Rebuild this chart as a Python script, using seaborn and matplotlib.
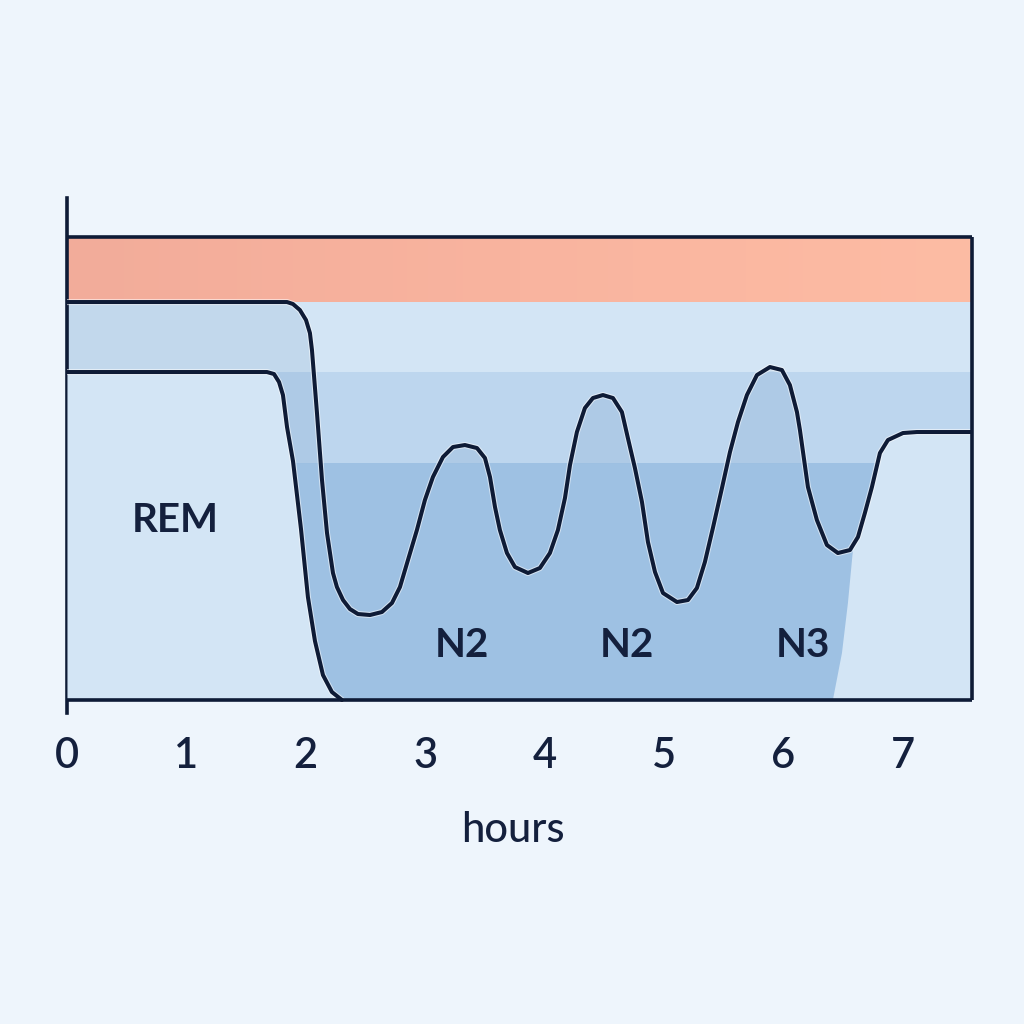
import numpy as np
import seaborn as sns
import matplotlib.pyplot as plt
import matplotlib.patheffects as pe
from matplotlib.colors import LinearSegmentedColormap

sns.set_theme(style="white")
plt.rcParams['font.family'] = ['Lato', 'DejaVu Sans']

# upper trace: hours vs. level (0 = bottom of the box)
trace_hours = [0.000, 1.843, 1.893, 1.951, 2.002, 2.035, 2.052, 2.094, 2.136, 2.178,
               2.228, 2.261, 2.312, 2.370, 2.437, 2.538, 2.638, 2.722, 2.789, 2.856,
               2.931, 2.998, 3.065, 3.149, 3.233, 3.333, 3.434, 3.501, 3.543, 3.585,
               3.626, 3.685, 3.752, 3.861, 3.961, 4.045, 4.112, 4.171, 4.213, 4.271,
               4.338, 4.405, 4.489, 4.573, 4.648, 4.698, 4.757, 4.816, 4.866, 4.925,
               4.992, 5.109, 5.201, 5.276, 5.343, 5.410, 5.486, 5.553, 5.620, 5.695,
               5.779, 5.888, 5.988, 6.055, 6.114, 6.139, 6.206, 6.281, 6.365, 6.457,
               6.558, 6.625, 6.683, 6.742, 6.809, 6.876, 7.002, 7.119, 7.580]
trace_level = [3.98, 3.98, 3.96, 3.90, 3.80, 3.67, 3.50, 2.87, 2.20, 1.67,
               1.27, 1.13, 1.00, 0.91, 0.86, 0.85, 0.88, 0.97, 1.13, 1.40,
               1.70, 2.00, 2.23, 2.43, 2.53, 2.55, 2.52, 2.42, 2.23, 1.93,
               1.70, 1.47, 1.33, 1.27, 1.32, 1.47, 1.70, 2.02, 2.35, 2.68,
               2.92, 3.02, 3.05, 3.02, 2.88, 2.62, 2.32, 1.98, 1.58, 1.28,
               1.07, 0.98, 1.00, 1.12, 1.38, 1.72, 2.12, 2.48, 2.78, 3.05,
               3.25, 3.33, 3.30, 3.15, 2.88, 2.70, 2.13, 1.80, 1.55, 1.47,
               1.50, 1.63, 1.87, 2.13, 2.47, 2.60, 2.67, 2.68, 2.68]

# lower trace (REM block on the left)
rem_hours = [0.000, 1.675, 1.734, 1.776, 1.809, 1.843, 1.893, 1.960, 2.018, 2.077,
             2.144, 2.219, 2.303]
rem_level = [3.28, 3.28, 3.26, 3.18, 3.05, 2.73, 2.39, 1.71, 1.03, 0.59,
             0.25, 0.08, 0.00]

# soft edge of the light area after the last trough
edge_hours = [6.415, 6.491, 6.541, 6.575, 6.585]
edge_level = [0.00, 0.47, 0.97, 1.40, 1.52]

band_lo = [0.00, 2.37]
band_hi = [2.37, 3.28]
wake_band = (3.98, 4.63)

tick_hours = [0, 1, 2, 3, 4, 5, 6, 7]
stage_text = ["REM", "N2", "N2", "N3"]
stage_hours = [0.91, 3.31, 4.69, 6.16]
stage_level = [1.80, 0.55, 0.55, 0.55]

x_max = 7.58

BG = "#EEF5FC"
LIGHT = "#D3E5F5"
MID = "#BDD6EE"
DARK = "#9EC1E3"
SHADE = "#3B6FA8"
NAVY = "#0E1B36"
TEXT = "#14203D"

fig = plt.figure(figsize=(10.24, 10.24), dpi=100, facecolor=BG)
ax = fig.add_axes([0.0654, 0.3037, 0.8838, 0.5029])
ax.set_facecolor(BG)

# stage bands
ax.axhspan(0, wake_band[0], color=LIGHT, lw=0, zorder=0)
ax.axhspan(band_lo[1], band_hi[1], color=MID, lw=0, zorder=1)
ax.axhspan(band_lo[0], band_hi[0], color=DARK, lw=0, zorder=1)

salmon = LinearSegmentedColormap.from_list("salmon", ["#F2AC9A", "#F9B49F", "#FDBCA4"])
ax.imshow(np.linspace(0, 1, 256)[None, :], cmap=salmon, aspect="auto",
          extent=(0, x_max, wake_band[0], wake_band[1]), zorder=1)

# shading under the trace (only shows above the deep band)
lvl = np.array(trace_level)
ax.fill_between(trace_hours, band_hi[0], lvl, where=lvl > band_hi[0], interpolate=True,
                color=SHADE, alpha=0.11, lw=0, zorder=2)
ax.fill_between(rem_hours, 0, rem_level, color=LIGHT, lw=0, zorder=3)

tail_h = [h for h in trace_hours if h > edge_hours[-1]]
tail_l = [l for h, l in zip(trace_hours, trace_level) if h > edge_hours[-1]]
ax.fill(edge_hours + tail_h + [x_max], edge_level + tail_l + [0],
        color=LIGHT, lw=0, zorder=3)

halo = [pe.Stroke(linewidth=4.4, foreground="white", alpha=0.55), pe.Normal()]
line_kw = dict(color=NAVY, lw=2.9, estimator=None, sort=False, path_effects=halo,
               solid_joinstyle="round", solid_capstyle="round", zorder=5)
sns.lineplot(x=trace_hours, y=trace_level, ax=ax, **line_kw)
sns.lineplot(x=rem_hours, y=rem_level, ax=ax, **line_kw)

# box outline
ax.hlines([0, wake_band[1]], 0, x_max, color=NAVY, lw=2.6, zorder=6, clip_on=False)
ax.vlines(x_max, 0, wake_band[1], color=NAVY, lw=2.6, zorder=6, clip_on=False)

for txt, h, l in zip(stage_text, stage_hours, stage_level):
    ax.text(h, l, txt, ha="center", va="center", fontsize=29,
            fontweight="bold", color=TEXT, zorder=7)

ax.set_xlim(0, x_max)
ax.set_ylim(-0.13, 5.02)
ax.set_xticks(tick_hours)
ax.set_yticks([])
ax.tick_params(axis="x", length=0, pad=17, labelsize=30, labelcolor=TEXT)
for lbl in ax.get_xticklabels():
    lbl.set_fontweight("semibold")
ax.set_xlabel("hours", fontsize=30, color=TEXT, labelpad=26, fontweight="medium")
ax.xaxis.label.set_x(0.493)

for side in ["top", "right", "bottom"]:
    ax.spines[side].set_visible(False)
ax.spines["left"].set_color(NAVY)
ax.spines["left"].set_linewidth(2.6)

fig.savefig("out.png", dpi=100, facecolor=BG)
